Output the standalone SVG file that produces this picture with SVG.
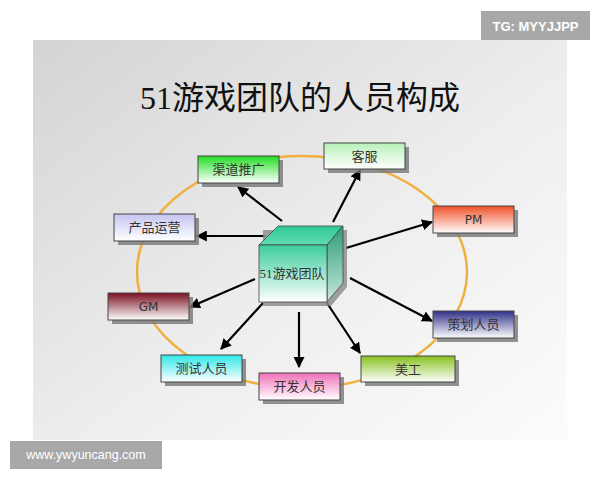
<svg xmlns="http://www.w3.org/2000/svg" width="600" height="480" viewBox="0 0 600 480">
<style>
.lbl{font-family:"Liberation Serif","Noto Sans CJK SC",serif;font-size:13px;fill:#333;text-anchor:middle;dominant-baseline:central}
.lat{font-family:"DejaVu Sans","Liberation Sans",sans-serif;font-size:12px;fill:#333;text-anchor:middle;dominant-baseline:central}
.box{stroke:#444;stroke-width:1}
.sh{fill:#777;opacity:0.8}
.con{stroke:#000;stroke-width:2.2;fill:none;marker-end:url(#ah)}
.wm{font-family:"Liberation Sans","DejaVu Sans",sans-serif;fill:#fff}
</style>
<defs>
<marker id="ah" viewBox="0 0 10 10" refX="9" refY="5" markerWidth="5" markerHeight="5" orient="auto" markerUnits="strokeWidth"><path d="M0,0 L10,5 L0,10 z" fill="#000"/></marker>
<linearGradient id="bg" x1="0" y1="0" x2="1" y2="1"><stop offset="0" stop-color="#d4d4d4"/><stop offset="0.55" stop-color="#eeeeee"/><stop offset="1" stop-color="#fcfcfc"/></linearGradient>
<linearGradient id="gQ" x1="0" y1="0" x2="0" y2="1"><stop offset="0" stop-color="#22dd22"/><stop offset="1" stop-color="#ffffff"/></linearGradient>
<linearGradient id="gK" x1="0" y1="0" x2="0" y2="1"><stop offset="0" stop-color="#b8f0b8"/><stop offset="1" stop-color="#ffffff"/></linearGradient>
<linearGradient id="gP" x1="0" y1="0" x2="0" y2="1"><stop offset="0" stop-color="#f05028"/><stop offset="1" stop-color="#ffffff"/></linearGradient>
<linearGradient id="gC" x1="0" y1="0" x2="0" y2="1"><stop offset="0" stop-color="#c4c4f0"/><stop offset="1" stop-color="#ffffff"/></linearGradient>
<linearGradient id="gG" x1="0" y1="0" x2="0" y2="1"><stop offset="0" stop-color="#7a1020"/><stop offset="1" stop-color="#ffffff"/></linearGradient>
<linearGradient id="gT" x1="0" y1="0" x2="0" y2="1"><stop offset="0" stop-color="#30e8e8"/><stop offset="1" stop-color="#ffffff"/></linearGradient>
<linearGradient id="gD" x1="0" y1="0" x2="0" y2="1"><stop offset="0" stop-color="#f070b8"/><stop offset="1" stop-color="#ffffff"/></linearGradient>
<linearGradient id="gM" x1="0" y1="0" x2="0" y2="1"><stop offset="0" stop-color="#88c020"/><stop offset="1" stop-color="#ffffff"/></linearGradient>
<linearGradient id="gH" x1="0" y1="0" x2="0" y2="1"><stop offset="0" stop-color="#303088"/><stop offset="1" stop-color="#ffffff"/></linearGradient>
<linearGradient id="cF" x1="0" y1="0" x2="0" y2="1"><stop offset="0" stop-color="#3ccc9c"/><stop offset="1" stop-color="#ffffff"/></linearGradient>
<linearGradient id="cT" x1="0" y1="0" x2="0" y2="1"><stop offset="0" stop-color="#30c898"/><stop offset="1" stop-color="#60dcb4"/></linearGradient>
<linearGradient id="cR" x1="0" y1="0" x2="0" y2="1"><stop offset="0" stop-color="#2e9c7a"/><stop offset="1" stop-color="#c8e8dc"/></linearGradient>
</defs>

<rect x="0" y="0" width="600" height="480" fill="#fff"/>
<rect x="33" y="40" width="534" height="400" fill="url(#bg)"/>

<text x="300" y="98" font-family="'Liberation Serif','Noto Sans CJK SC',serif" font-size="32" fill="#111" text-anchor="middle" dominant-baseline="central">51游戏团队的人员构成</text>

<ellipse cx="302" cy="272" rx="165" ry="116" fill="none" stroke="#f0b040" stroke-width="2.5"/>

<g id="connectors">
<line class="con" x1="282" y1="221" x2="238" y2="187"/>
<line class="con" x1="265" y1="236" x2="197" y2="236"/>
<line class="con" x1="333" y1="222" x2="360" y2="170"/>
<line class="con" x1="346" y1="248" x2="432" y2="222"/>
<line class="con" x1="255" y1="279" x2="190" y2="307"/>
<line class="con" x1="263" y1="303" x2="221" y2="349"/>
<line class="con" x1="299" y1="312" x2="299" y2="367"/>
<line class="con" x1="327" y1="303" x2="360" y2="353"/>
<line class="con" x1="350" y1="278" x2="432" y2="321"/>
</g>

<g id="center">
<polygon points="263,306 331,306 347,287 347,230 263,230" fill="#888" opacity="0.8"/>
<polygon points="259,245 327,245 343,226 278,226" fill="url(#cT)" stroke="#444" stroke-width="0.8"/>
<polygon points="327,245 343,226 343,283 327,302" fill="url(#cR)" stroke="#444" stroke-width="0.8"/>
<rect x="259" y="245" width="68" height="57" fill="url(#cF)" stroke="#444" stroke-width="0.8"/>
<text class="lbl" x="292" y="273">51游戏团队</text>
</g>

<g id="n-qudao">
<rect class="sh" x="202" y="160" width="81" height="27"/>
<rect class="box" x="198" y="156" width="81" height="27" fill="url(#gQ)"/>
<text class="lbl" x="238.5" y="169.5">渠道推广</text>
</g>
<g id="n-kefu">
<rect class="sh" x="328" y="147" width="81" height="26"/>
<rect class="box" x="324" y="143" width="81" height="26" fill="url(#gK)"/>
<text class="lbl" x="364.5" y="156">客服</text>
</g>
<g id="n-pm">
<rect class="sh" x="437" y="210" width="81" height="27"/>
<rect class="box" x="433" y="206" width="81" height="27" fill="url(#gP)"/>
<text class="lat" x="473.5" y="219.5">PM</text>
</g>
<g id="n-chanpin">
<rect class="sh" x="118" y="218" width="81" height="27"/>
<rect class="box" x="114" y="214" width="81" height="27" fill="url(#gC)"/>
<text class="lbl" x="154.5" y="227.5">产品运营</text>
</g>
<g id="n-gm">
<rect class="sh" x="112" y="297" width="81" height="27"/>
<rect class="box" x="108" y="293" width="81" height="27" fill="url(#gG)"/>
<text class="lat" x="148.5" y="306.5">GM</text>
</g>
<g id="n-ceshi">
<rect class="sh" x="165" y="359" width="81" height="27"/>
<rect class="box" x="161" y="355" width="81" height="27" fill="url(#gT)"/>
<text class="lbl" x="201.5" y="368.5">测试人员</text>
</g>
<g id="n-kaifa">
<rect class="sh" x="263" y="377" width="81" height="27"/>
<rect class="box" x="259" y="373" width="81" height="27" fill="url(#gD)"/>
<text class="lbl" x="299.5" y="386.5">开发人员</text>
</g>
<g id="n-meigong">
<rect class="sh" x="365" y="360" width="94" height="26"/>
<rect class="box" x="361" y="356" width="94" height="26" fill="url(#gM)"/>
<text class="lbl" x="408" y="369">美工</text>
</g>
<g id="n-cehua">
<rect class="sh" x="437" y="315" width="81" height="27"/>
<rect class="box" x="433" y="311" width="81" height="27" fill="url(#gH)"/>
<text class="lbl" x="473.5" y="324.5">策划人员</text>
</g>

<rect x="481" y="11" width="109" height="29" fill="#a8a8a8"/>
<text class="wm" x="535.5" y="26" font-size="13" font-weight="bold" text-anchor="middle" dominant-baseline="central">TG: MYYJJPP</text>
<rect x="10" y="441" width="152" height="28" fill="#a8a8a8"/>
<text class="wm" x="86" y="455" font-size="12.5" text-anchor="middle" dominant-baseline="central">www.ywyuncang.com</text>
</svg>
